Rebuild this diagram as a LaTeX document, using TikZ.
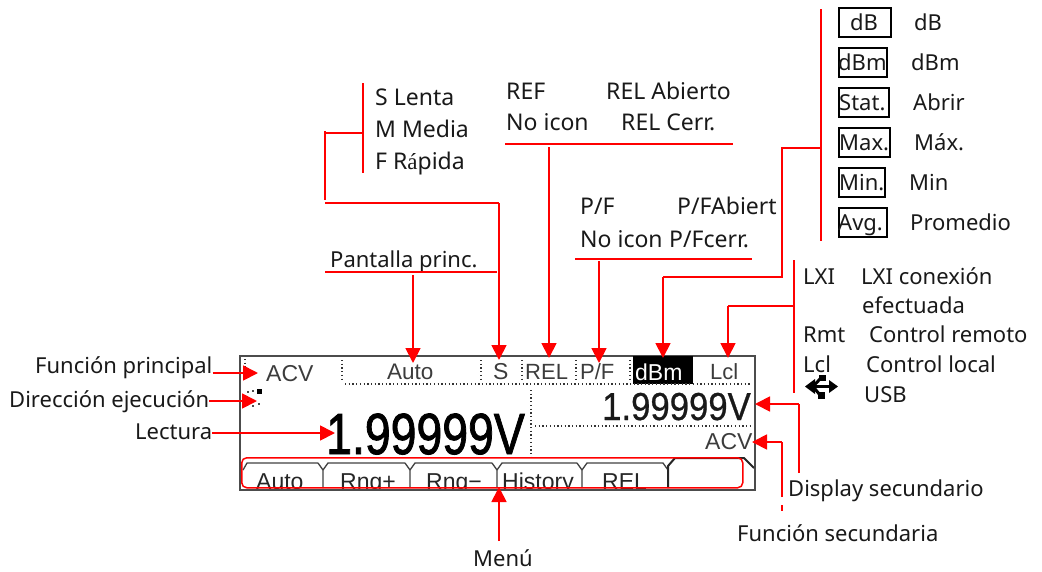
\documentclass[tikz,border=0pt]{standalone}
\usepackage{fontspec}
\usepackage{graphicx}
\setmainfont{Noto Sans}
\newfontfamily\lcdfont{Liberation Sans}
\newfontfamily\lcdbold[FakeBold=1.6]{Liberation Sans}
\newfontfamily\lcdsemi[FakeBold=0.7]{Liberation Sans}
\newfontfamily\accentfont{Liberation Serif}
\usetikzlibrary{arrows.meta}
\definecolor{pure}{RGB}{255,0,0}
\definecolor{lcdgray}{RGB}{60,60,60}
\tikzset{
  lbl/.style={anchor=base west,inner sep=0pt,font=\fontsize{22}{22}\selectfont,text=black!90},
  lblwide/.style={anchor=base west,inner sep=0pt,font=\fontsize{23}{23}\selectfont,text=black!90},
  iconbox/.style={draw=black,line width=1.5pt,anchor=north west,inner sep=0pt,minimum height=29pt},
  boxtxt/.style={anchor=base west,inner sep=0pt,font=\fontsize{22}{22}\selectfont,text=black!90},
  lcd/.style={anchor=base west,inner sep=0pt,font=\lcdfont\fontsize{23}{23}\selectfont,text=lcdgray},
  tabtxt/.style={anchor=base west,inner sep=0pt,font=\lcdfont\fontsize{23}{23}\selectfont,text=black!85},
  redline/.style={draw=pure,line width=1.8pt},
  redarrow/.style={draw=pure,line width=1.8pt,-{Triangle[length=15pt,width=15pt]}},
  dots/.style={draw=black!80,line width=1.3pt,dash pattern=on 1.3pt off 2.4pt},
  tabline/.style={draw=black!75,line width=1.3pt}
}
\begin{document}
\begin{tikzpicture}[x=1pt,y=-1pt]
\useasboundingbox (0,0) rectangle (1042,571);
% ---------- instrument screen
\node[inner sep=0pt,minimum width=515pt,minimum height=134pt,anchor=north west,draw=black!70,line width=1.8pt] (screen) at (239,355) {};
\fill[black] (633,356) rectangle (693,384);
\foreach \a/\b/\c/\d in {245/359/245/371, 342/360/342/382, 345/384/750/384, 481/360/481/382, 522/360/522/382, 576/360/576/382, 630/360/630/382, 531/390/531/458, 535/426/752/426}
  \draw[dots] (\a,\b) -- (\c,\d);
\node[lcd] (vACV) at (266,381) {ACV};
\node[lcd,font=\lcdfont\fontsize{22.5}{22.5}\selectfont] (vAuto) at (387,379) {Auto};
\node[lcd] (vS) at (493,379) {S};
\node[lcd,font=\lcdfont\fontsize{22}{22}\selectfont] (vREL) at (525,379) {REL};
\node[lcd,font=\lcdfont\fontsize{22}{22}\selectfont] (vPF) at (580,379) {P/F};
\node[lcd,text=white] (vdBm) at (635,380) {dBm};
\node[lcd,font=\lcdfont\fontsize{22}{22}\selectfont] (vLcl) at (710,379) {Lcl};
% direction icon
\fill[black] (257,389) rectangle (262,394);
\foreach \p/\q in {247/391, 252/390, 252/405, 258/403}
  \fill[black!70] (\p,\q) rectangle +(2,2);
% readings
\node[anchor=base west,inner sep=0pt,font=\lcdbold\fontsize{58}{58}\selectfont,text=black] (vMain) at (326,454) {\scalebox{0.8}[1]{1.99999V}};
\node[anchor=base west,inner sep=0pt,font=\lcdsemi\fontsize{39}{39}\selectfont,text=black!90] (vSec) at (602,420) {\scalebox{0.89}[1]{1.99999V}};
\node[lcd] (vACV2) at (705,449) {ACV};
% menu tabs
\begin{scope}
\clip (239,355) rectangle (754,488);
\node[tabtxt] (mAuto) at (256,489) {Auto};
\node[tabtxt] (mRp) at (340,489) {Rng+};
\node[tabtxt] (mRm) at (426,489) {Rng\textminus};
\node[tabtxt] (mHist) at (502,489) {History};
\node[tabtxt] (mREL) at (602,489) {REL};
\draw[tabline] (243,470) -- (247,463) -- (318,463);
\foreach \j/\k in {323/405, 410/492, 497/577}
  \draw[tabline] (\j-5,463) -- (\j,470) -- (\j,488) (\j,470) -- (\j+5,463) -- (\k,463);
\draw[tabline] (577,463) -- (582,470) -- (582,488) (582,470) -- (587,463) -- (663,463) -- (668,470);
\draw[black!85,line width=2pt] (668,488) -- (668,466) -- (675,458) -- (744,458) -- (754,468);
\end{scope}
% red menu frame
\node[draw=pure,line width=1.5pt,rounded corners=5pt,inner sep=0pt,minimum width=501pt,minimum height=30pt,anchor=north west] (menuframe) at (241,457) {};
% ---------- left labels
\node[lbl] (lFP) at (35,373) {Función principal};
\node[lbl] (lDE) at (9,407) {Dirección ejecución};
\node[lbl] (lLE) at (135,439) {Lectura};
\node[lbl] (lME) at (473,566) {Menú};
\coordinate (tFP) at (258,373);
\coordinate (tDE) at (257,401);
\coordinate (tLE) at (335,433);
\draw[redarrow] (lFP.east |- tFP) -- (tFP);
\draw[redarrow] (lDE.east |- tDE) -- (tDE);
\draw[redarrow] (lLE.east |- tLE) -- (tLE);
\coordinate (mFrom) at (499,541);
\coordinate (mTip) at (499,487);
\draw[redarrow] (mFrom) -- (mTip);
% ---------- Pantalla princ
\node[lbl] (lPP) at (330,267) {Pantalla princ.};
\coordinate (ppA) at (325,272); \coordinate (ppB) at (497,272);
\draw[redline] (ppA) -- (ppB);
\coordinate (ppF) at (413,275); \coordinate (ppT) at (413,363);
\draw[redarrow] (ppF) -- (ppT);
% ---------- speed
\node[lblwide] (sL) at (375,105) {S Lenta};
\node[lblwide] (sM) at (375,137) {M Media};
\node[lblwide] (sF) at (375,169) {F R{\accentfont á}pida};
\coordinate (sbT) at (363,83); \coordinate (sbB) at (363,173);
\draw[redline] (sbT) -- (sbB);
\coordinate (s1) at (363,133); \coordinate (s2) at (325,133);
\coordinate (s3) at (325,131); \coordinate (s4) at (325,200);
\draw[redline] (s1) -- (s2);
\draw[redline] (s3) -- (s4);
\coordinate (s5) at (325,203); \coordinate (s6) at (499,203); \coordinate (s7) at (499,360);
\draw[redline] (s5) -- (s6);
\draw[redarrow] (s6) -- (s7);
% ---------- REL
\node[lblwide] (rREF) at (506,99) {REF};
\node[lblwide] (rAb) at (606,99) {REL Abierto};
\node[lblwide] (rNo) at (506,130) {No icon};
\node[lblwide] (rCe) at (621,130) {REL Cerr.};
\coordinate (r1) at (505,144); \coordinate (r2) at (733,144);
\draw[redline] (r1) -- (r2);
\coordinate (r3) at (549,147); \coordinate (r4) at (549,358);
\draw[redarrow] (r3) -- (r4);
% ---------- P/F
\node[lblwide] (pPF) at (580,214) {P/F};
\node[lblwide] (pAb) at (677,214) {P/FAbiert};
\node[lblwide] (pNo) at (580,247) {No icon};
\node[lblwide] (pCe) at (669,247) {P/Fcerr.};
\coordinate (p1) at (575,259); \coordinate (p2) at (752,259);
\draw[redline] (p1) -- (p2);
\coordinate (p3) at (599,261); \coordinate (p4) at (599,363);
\draw[redarrow] (p3) -- (p4);
% ---------- math
\coordinate (m1) at (821,9); \coordinate (m2) at (821,241);
\draw[redline] (m1) -- (m2);
\coordinate (m3) at (821,148); \coordinate (m4) at (782,148); \coordinate (m5) at (782,277); \coordinate (m6) at (663,277); \coordinate (m7) at (663,358);
\draw[redline] (m3) -- (m4) -- (m5) -- (m6);
\draw[redarrow] (m6) -- (m7);
\foreach \nm/\w/\t/\tx/\bs/\lab/\lx in {A/52/dB/850/30/dB/914, B/48/dBm/838/70/dBm/911, C/50/Stat./839/110/Abrir/913, D/51/Max./839/150/Máx./914, E/46/Min./839/190/Min/909, F/48/Avg./838/230/Promedio/910}{
  \node[iconbox,minimum width=\w pt] (box\nm) at (838,\bs-23) {};
  \node[boxtxt] (boxt\nm) at (\tx,\bs) {\t};
  \node[lbl] (lab\nm) at (\lx,\bs) {\lab};
}
% ---------- remote
\coordinate (c1) at (794,260); \coordinate (c2) at (794,393);
\draw[redline] (c1) -- (c2);
\coordinate (c3) at (794,306); \coordinate (c4) at (728,306); \coordinate (c5) at (728,358);
\draw[redline] (c3) -- (c4);
\draw[redarrow] (c4) -- (c5);
\node[lbl] (lLXI) at (803,284) {LXI};
\node[lbl] (lLXc) at (861,284) {LXI conexión};
\node[lbl] (lEf) at (862,313) {efectuada};
\node[lbl] (lRm) at (803,342) {Rmt};
\node[lbl] (lCr) at (869,342) {Control remoto};
\node[lbl] (lLc) at (803,372) {Lcl};
\node[lbl] (lCl) at (866,372) {Control local};
\node[lbl] (lUS) at (864,402) {USB};
% usb icon
\draw[black,line width=3pt] (808,386.5) -- (834,386.5);
\fill[black] (805,386.5) -- (815,379) -- (815,394) -- cycle;
\fill[black] (838,386.5) -- (829,380) -- (829,393) -- cycle;
\draw[black,line width=3pt] (813,386.5) -- (820,379) -- (824,379) (813,386.5) -- (820,395) -- (824,395);
\fill[black] (819,375) rectangle (826,381);
\fill[black] (818,392) rectangle (825,399);
% ---------- secondary
\node[lbl] (lDS) at (788,496) {Display secundario};
\node[lbl] (lFS) at (737,541) {Función secundaria};
\coordinate (d1) at (799,473); \coordinate (d2) at (799,404); \coordinate (d3) at (755,404);
\draw[redline] (d1) -- (d2);
\draw[redarrow] (d2) -- (d3);
\coordinate (f1) at (782,497); \coordinate (f2) at (782,442); \coordinate (f3) at (752,442);
\coordinate (f4) at (782,505); \coordinate (f5) at (782,511);
\draw[redline] (f1) -- (f2);
\draw[redarrow] (f2) -- (f3);
\draw[redline] (f4) -- (f5);
\end{tikzpicture}
\end{document}
